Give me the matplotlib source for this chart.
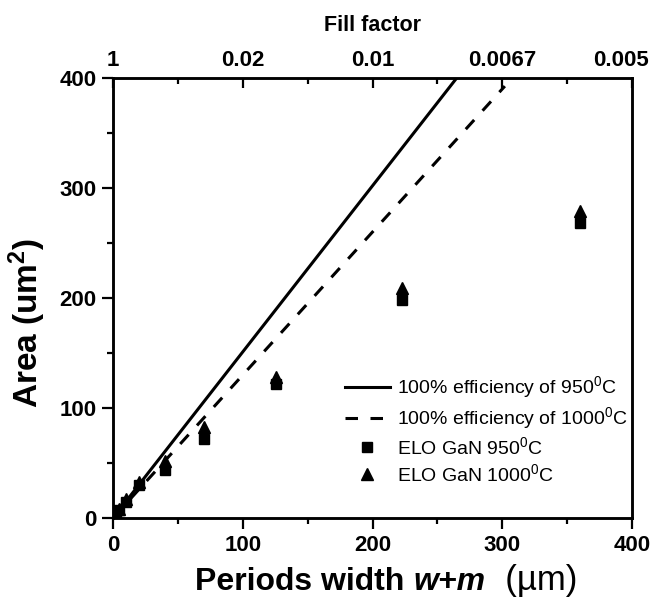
import matplotlib
matplotlib.use("Agg")
import matplotlib.pyplot as plt
import matplotlib.transforms as mtransforms
import numpy as np
from matplotlib.offsetbox import TextArea, HPacker, AnchoredOffsetbox

plt.rcParams['font.family'] = ['Liberation Sans', 'DejaVu Sans']
plt.rcParams['mathtext.fontset'] = 'custom'
plt.rcParams['mathtext.rm'] = 'Liberation Sans'
plt.rcParams['mathtext.it'] = 'Liberation Sans:italic'
plt.rcParams['mathtext.bf'] = 'Liberation Sans:bold'
plt.rcParams['lines.scale_dashes'] = False

# ---- data ----
period = [2, 5, 10, 20, 40, 70, 126, 223, 360]
area_950 = [2.5, 7, 15, 30, 44, 72, 122, 198, 268]
area_1000 = [3, 8, 17, 33, 52, 83, 128, 209, 279]
line_x = [0, 302]
slope_950 = 1.51
slope_1000 = 1.30
top_ticks = [0, 100, 200, 300, 400]
top_labels = ['1', '0.02', '0.01', '0.0067', '0.005']

fig = plt.figure(figsize=(6.51, 6.05), dpi=100)
ax = fig.add_axes([113/651, 1-518/605, (632-113)/651, (518-78)/605])

lx = np.array(line_x, dtype=float)
ax.plot(lx, slope_950*lx, color='black', lw=2.2, label=r'100% efficiency of 950$^{\mathrm{0}}$C')
ax.plot(lx, slope_1000*lx, color='black', lw=2.2, dashes=[9, 9],
        label=r'100% efficiency of 1000$^{\mathrm{0}}$C')
ax.plot(period, area_950, 's', color='black', ms=6.5, label=r'ELO GaN 950$^{\mathrm{0}}$C')
ax.plot(period, area_1000, '^', color='black', ms=8, label=r'ELO GaN 1000$^{\mathrm{0}}$C')

ax.set_xlim(0, 400)
ax.set_ylim(0, 400)
ax.set_xticks([0, 100, 200, 300, 400])
ax.set_xticks([50, 150, 250, 350], minor=True)
ax.set_yticks([0, 100, 200, 300, 400])
ax.set_yticks([50, 150, 250, 350], minor=True)
ax.tick_params(which='major', direction='out', length=8, width=1.6, labelsize=16, pad=4)
ax.tick_params(which='minor', direction='out', length=4.5, width=1.6)
for lab in ax.get_xticklabels() + ax.get_yticklabels():
    lab.set_fontweight('bold')
for s in ax.spines.values():
    s.set_linewidth(1.8)

ax2 = ax.twiny()
ax2.set_xlim(0, 400)
ax2.set_xticks(top_ticks)
ax2.set_xticklabels(top_labels, fontweight='bold', fontsize=16)
ax2.set_xticks([50, 150, 250, 350], minor=True)
ax2.tick_params(which='major', direction='in', length=7, width=1.6, pad=5)
ax2.tick_params(which='minor', direction='in', length=4.5, width=1.6)
ax2.set_xlabel('Fill factor', fontsize=15.5, fontweight='bold', labelpad=14)
for s in ax2.spines.values():
    s.set_linewidth(1.8)
# the last top label is pulled inward so it stays inside the figure
last = ax2.get_xticklabels()[-1]
last.set_transform(last.get_transform() +
                   mtransforms.ScaledTranslation(-11/100, 0, fig.dpi_scale_trans))

ax.set_ylabel(r'Area (um$^{\mathbf{2}}$)', fontsize=24, fontweight='bold')
ax.yaxis.set_label_coords(-0.125, 0.443)

leg = ax.legend(loc='upper left', bbox_to_anchor=(0.447, 0.326), frameon=False,
                fontsize=14, handlelength=2.3, handletextpad=0.35, labelspacing=0.25,
                borderpad=0, borderaxespad=0)

# composite x label
t1 = TextArea('Periods width ', textprops=dict(fontsize=23, fontweight='bold'))
t2 = TextArea('w+m', textprops=dict(fontsize=23, fontweight='bold', style='italic'))
t3 = TextArea('  (\u00b5m)', textprops=dict(fontsize=25))
pack = HPacker(children=[t1, t2, t3], align='baseline', pad=0, sep=0)
anch = AnchoredOffsetbox(loc='center', child=pack, frameon=False,
                         bbox_to_anchor=(0.593, 0.04), bbox_transform=fig.transFigure,
                         borderpad=0, pad=0)
fig.add_artist(anch)

fig.savefig('out.png', dpi=100)
